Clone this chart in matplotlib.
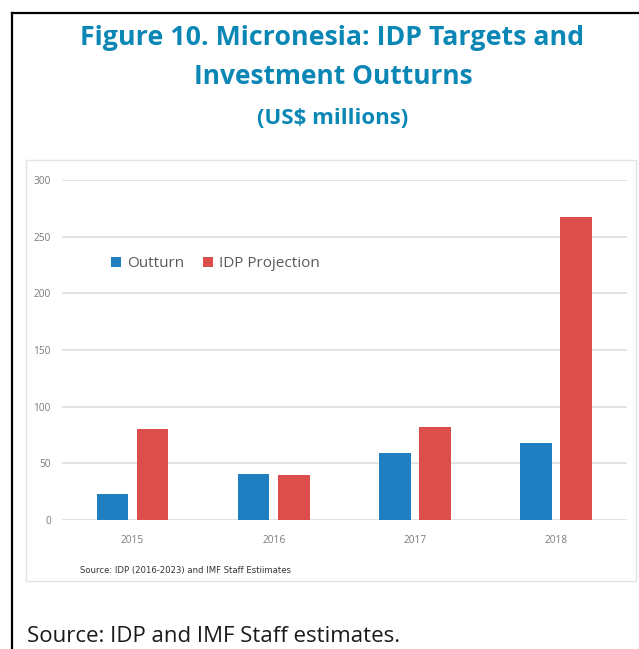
import matplotlib
matplotlib.use("Agg")
import matplotlib.pyplot as plt
from matplotlib.patches import Patch, Rectangle
from matplotlib.lines import Line2D
import numpy as np

plt.rcParams['font.family'] = ['Open Sans', 'DejaVu Sans']

categories = ['2015', '2016', '2017', '2018']
outturn = [23, 41, 59, 68]
idp_projection = [80, 40, 82, 267]
y_ticks = [0, 50, 100, 150, 200, 250, 300]

title_line1 = "Figure 10. Micronesia: IDP Targets and"
title_line2 = "Investment Outturns"
subtitle = "(US$ millions)"
inner_source = "Source: IDP (2016-2023) and IMF Staff Estiimates"
outer_source = "Source: IDP and IMF Staff estimates."

W, H = 639, 649
fig = plt.figure(figsize=(W / 100, H / 100), dpi=100)
fig.patch.set_facecolor('white')

def fx(px):
    return px / W

def fy(py):
    return 1 - py / H

# outer black border (left and top)
fig.add_artist(Line2D([fx(12), fx(12)], [fy(13), 0], color='black', lw=1.6))
fig.add_artist(Line2D([fx(12), 1], [fy(13), fy(13)], color='black', lw=1.6))

# inner chart frame
fig.add_artist(Rectangle((fx(26), fy(581)), fx(636) - fx(26), fy(160) - fy(581),
                         fill=False, edgecolor='#e3e3e3', lw=1.0))

title_color = '#0b87b5'
fig.text(fx(332), fy(38), title_line1, ha='center', va='center', fontsize=19.3,
         fontweight='bold', color=title_color)
fig.text(fx(333), fy(77), title_line2, ha='center', va='center', fontsize=19,
         fontweight='bold', color=title_color)
fig.text(fx(333), fy(119), subtitle, ha='center', va='center', fontsize=16,
         fontweight='bold', color=title_color)

ax = fig.add_axes([fx(62), fy(520), fx(626.7) - fx(62), fy(180) - fy(520)])
x = np.arange(len(categories))
bw = 0.223
off = 0.142
blue = '#1f7fc1'
red = '#db4e4b'
ax.bar(x - off, outturn, width=bw, color=blue, zorder=3)
ax.bar(x + off, idp_projection, width=bw, color=red, zorder=3)

ax.set_xlim(-0.5, 3.5)
ax.set_ylim(0, 300)
ax.set_yticks(y_ticks)
ax.set_xticks(x)
ax.set_xticklabels(categories)
ax.grid(axis='y', color='#dedede', lw=1.2, zorder=0)
ax.set_axisbelow(True)
for s in ax.spines.values():
    s.set_visible(False)
ax.tick_params(axis='both', length=0, labelsize=7.3, labelcolor='#7a7a7a')
ax.tick_params(axis='y', pad=8)
ax.tick_params(axis='x', pad=11)

handles = [Patch(facecolor=blue, label='Outturn'),
           Patch(facecolor=red, label='IDP Projection')]
ax.legend(handles=handles, loc='center left', bbox_to_anchor=(0.074, 0.753),
          ncol=2, frameon=False, fontsize=11, handlelength=0.65, handleheight=0.65,
          handletextpad=0.4, columnspacing=1.2, borderpad=0, labelcolor='#595959')

fig.text(fx(80), fy(570), inner_source, ha='left', va='center', fontsize=6.1,
         color='#333333', family=['Liberation Sans Narrow', 'DejaVu Sans'])

fig.text(fx(27), fy(637), outer_source, ha='left', va='center', fontsize=16,
         color='#1a1a1a')

fig.savefig('out.png', dpi=100)
